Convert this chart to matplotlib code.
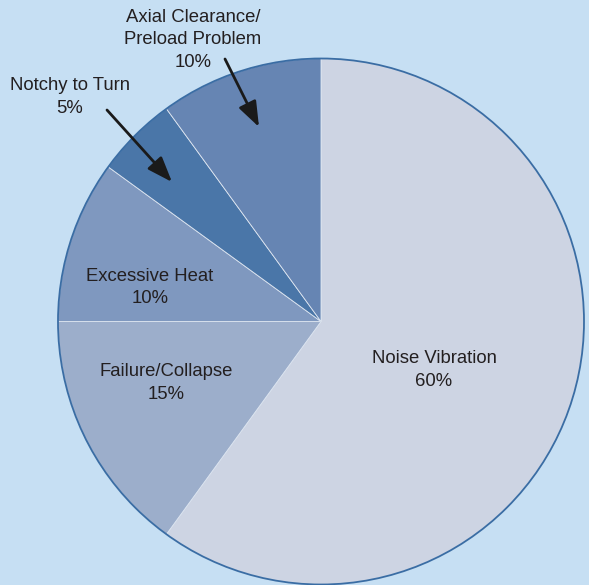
import matplotlib
matplotlib.use("Agg")
import matplotlib.pyplot as plt
from matplotlib.patches import Circle

labels = ["Noise Vibration", "Failure/Collapse", "Excessive Heat",
          "Notchy to Turn", "Axial Clearance/\nPreload Problem"]
shares = [60, 15, 10, 5, 10]
colors = ["#cdd4e3", "#9caecb", "#7f98bf", "#4a76a8", "#6685b3"]

W, H = 589, 585
BG = "#c6dff3"

fig = plt.figure(figsize=(W / 100, H / 100), dpi=100, facecolor=BG)
ax = fig.add_axes([0, 0, 1, 1])
ax.set_facecolor(BG)

cx, cy, r = 321, H - 321.5, 263
ax.pie(shares, colors=colors, startangle=90, counterclock=False,
       center=(cx, cy), radius=r,
       wedgeprops=dict(edgecolor="#dde5f0", linewidth=0.6))
ax.add_patch(Circle((cx, cy), r, fill=False, edgecolor="#3a6da4", linewidth=1.3))

ax.set_xlim(0, W)
ax.set_ylim(0, H)
ax.set_aspect("equal")
ax.axis("off")

plt.rcParams["font.family"] = ["Liberation Sans", "DejaVu Sans"]
fs = 13.3
txt = dict(ha="center", va="center", fontsize=fs, color="#231f20",
           linespacing=1.42, family=["Liberation Sans", "DejaVu Sans"])

def lab(i):
    return f"{labels[i]}\n{shares[i]}%"

# labels inside slices
ax.text(434, H - 370, lab(0), **txt)
ax.text(166, H - 383, lab(1), **txt)
ax.text(150, H - 287.5, lab(2), **txt)

# labels outside with arrows
arrow = dict(arrowstyle="-|>,head_length=0.7,head_width=0.26",
             mutation_scale=22, color="#1a1a1a", linewidth=2.0,
             shrinkA=0, shrinkB=0)
ax.text(70, H - 97, lab(3), **txt)
ax.annotate("", xy=(172, H - 182), xytext=(107, H - 110), arrowprops=arrow)
ax.text(193, H - 40, lab(4), **txt)
ax.annotate("", xy=(259, H - 127), xytext=(225, H - 59), arrowprops=arrow)

fig.savefig("out.png", dpi=100, facecolor=BG)
